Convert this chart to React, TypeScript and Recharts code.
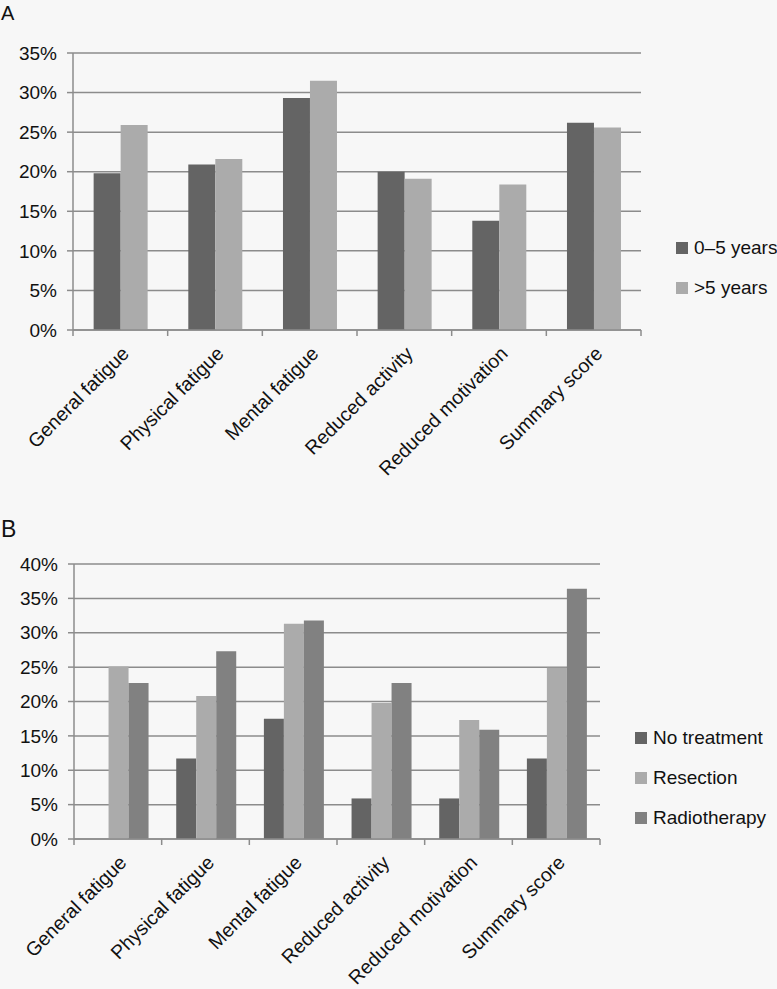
import React from "react";
import { BarChart, Bar, XAxis, YAxis, CartesianGrid } from "recharts";

const categories = [
  "General fatigue",
  "Physical fatigue",
  "Mental fatigue",
  "Reduced activity",
  "Reduced motivation",
  "Summary score",
];

// Panel A: by time since diagnosis (%)
const years0to5 = [19.8, 20.9, 29.3, 20.0, 13.8, 26.2];
const yearsOver5 = [25.9, 21.6, 31.5, 19.1, 18.4, 25.6];
const ticksA = [0, 5, 10, 15, 20, 25, 30, 35];

// Panel B: by treatment (%)
const noTreatment = [0, 11.7, 17.5, 5.9, 5.9, 11.7];
const resection = [25.1, 20.8, 31.3, 19.8, 17.3, 24.9];
const radiotherapy = [22.7, 27.3, 31.8, 22.7, 15.9, 36.4];
const ticksB = [0, 5, 10, 15, 20, 25, 30, 35, 40];

const seriesA = [
  { key: "a", name: "0–5 years", color: "#646464", values: years0to5 },
  { key: "b", name: ">5 years", color: "#ababab", values: yearsOver5 },
];
const seriesB = [
  { key: "n", name: "No treatment", color: "#646464", values: noTreatment },
  { key: "r", name: "Resection", color: "#ababab", values: resection },
  { key: "t", name: "Radiotherapy", color: "#818181", values: radiotherapy },
];

const FONT = "'Liberation Sans', Arial, Helvetica, sans-serif";
const LINE = "#8c8c8c";
const TICK_SIZE = 6;
const TICK_MARGIN = 9;

type Series = { key: string; name: string; color: string; values: number[] };

const buildRows = (series: Series[]) =>
  categories.map((name, i) => {
    const row: Record<string, string | number> = { name };
    series.forEach((s) => (row[s.key] = s.values[i]));
    return row;
  });

// label rotated -45deg plus the small tick marks that sit on category boundaries
const CategoryTick = (props: any) => {
  const { x, y, payload, index, visibleTicksCount } = props;
  const half = payload.offset || 0;
  const axisY = y - TICK_SIZE - TICK_MARGIN;
  const isLast = index === visibleTicksCount - 1;
  return (
    <g>
      <line x1={x - half} x2={x - half} y1={axisY} y2={axisY + TICK_SIZE} stroke={LINE} strokeWidth={1.5} />
      {isLast && (
        <line x1={x + half} x2={x + half} y1={axisY} y2={axisY + TICK_SIZE} stroke={LINE} strokeWidth={1.5} />
      )}
      <text
        x={x}
        y={y}
        dy={14}
        transform={`rotate(-45, ${x}, ${y})`}
        textAnchor="end"
        fontSize={19.5}
        fontFamily={FONT}
        fill="#111"
      >
        {payload.value}
      </text>
    </g>
  );
};

const Legend = ({ series, left, top }: { series: Series[]; left: number; top: number }) => (
  <div
    style={{
      position: "absolute",
      left,
      top,
      fontFamily: FONT,
      fontSize: 19,
      color: "#111",
      whiteSpace: "nowrap",
    }}
  >
    {series.map((s) => (
      <div key={s.key} style={{ display: "flex", alignItems: "center", height: 40 }}>
        <span style={{ width: 12, height: 12, background: s.color, marginRight: 6, display: "inline-block" }} />
        {s.name}
      </div>
    ))}
  </div>
);

const Panel = ({
  series,
  ticks,
  height,
  margin,
  gap,
}: {
  series: Series[];
  ticks: number[];
  height: number;
  margin: { top: number; right: number; bottom: number; left: number };
  gap: string;
}) => (
  <BarChart
    width={777}
    height={height}
    data={buildRows(series)}
    margin={margin}
    barCategoryGap={gap}
    barGap={0}
  >
    <CartesianGrid vertical={false} stroke={LINE} strokeWidth={1.5} />
    <XAxis
      dataKey="name"
      interval={0}
      height={150}
      tickLine={false}
      tickSize={TICK_SIZE}
      tickMargin={TICK_MARGIN}
      axisLine={{ stroke: LINE, strokeWidth: 1.5 }}
      tick={<CategoryTick />}
    />
    <YAxis
      width={73}
      domain={[0, ticks[ticks.length - 1]]}
      ticks={ticks}
      interval={0}
      tickFormatter={(v: number) => `${v}%`}
      tickSize={6}
      tickMargin={10}
      tickLine={{ stroke: LINE, strokeWidth: 1.5 }}
      axisLine={{ stroke: LINE, strokeWidth: 1.5 }}
      tick={{ fontSize: 19, fontFamily: FONT, fill: "#111" }}
    />
    {series.map((s) => (
      <Bar key={s.key} dataKey={s.key} name={s.name} fill={s.color} isAnimationActive={false} />
    ))}
  </BarChart>
);

export default function App() {
  return (
    <div
      style={{
        position: "absolute",
        left: 0,
        top: 0,
        width: 777,
        height: 989,
        background: "#f7f7f7",
        overflow: "hidden",
      }}
    >
      <div style={{ position: "absolute", left: 0, top: 0, width: 777, height: 480 }}>
        <div style={{ position: "absolute", left: 1, top: 2, fontFamily: FONT, fontSize: 20, color: "#111" }}>A</div>
        <Panel
          series={seriesA}
          ticks={ticksA}
          height={480}
          margin={{ top: 53, right: 136, bottom: 0, left: 0 }}
          gap="21.8%"
        />
        <Legend series={seriesA} left={676} top={228} />
      </div>
      <div style={{ position: "absolute", left: 0, top: 480, width: 777, height: 509 }}>
        <div style={{ position: "absolute", left: 1, top: 36, fontFamily: FONT, fontSize: 23, color: "#111" }}>B</div>
        <Panel
          series={seriesB}
          ticks={ticksB}
          height={509}
          margin={{ top: 84, right: 177, bottom: 0, left: 1 }}
          gap="16.6%"
        />
        <Legend series={seriesB} left={635} top={238} />
      </div>
    </div>
  );
}
